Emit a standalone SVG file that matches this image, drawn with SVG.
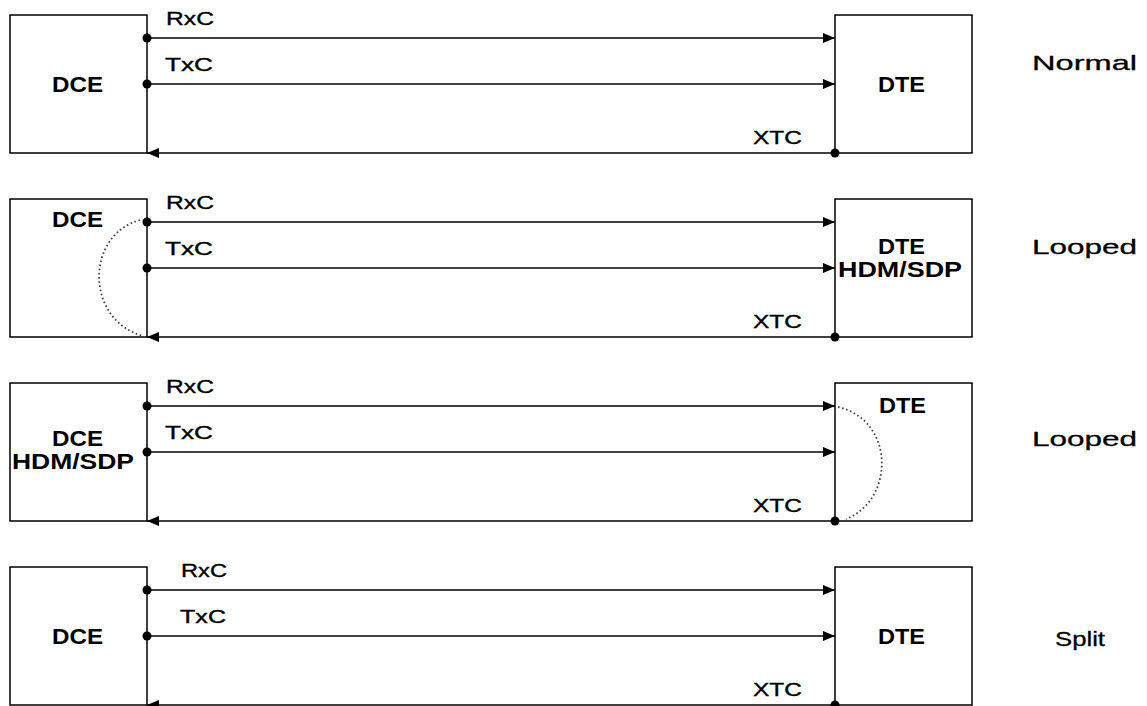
<svg xmlns="http://www.w3.org/2000/svg" width="1147" height="706" viewBox="0 0 1147 706">
<style>
.box{fill:none;stroke:#000;stroke-width:1.5}
.ln{fill:none;stroke:#000;stroke-width:1.5}
.dot{fill:#000}
.loop{fill:none;stroke:#444;stroke-width:1.8;stroke-dasharray:1.6 2.6}
.sig{font-family:"Liberation Sans",Arial,sans-serif;font-size:19px;fill:#000;stroke:#000;stroke-width:0.35}
.nm{font-family:"Liberation Sans",Arial,sans-serif;font-size:22px;font-weight:bold;fill:#000}
.mode{font-family:"Liberation Sans",Arial,sans-serif;font-size:21px;fill:#000;stroke:#000;stroke-width:0.3}
</style>
<defs>
<marker id="ah" viewBox="0 0 12 10" refX="12" refY="5" markerWidth="12" markerHeight="10" markerUnits="userSpaceOnUse" orient="auto">
<path d="M0,0 L12,5 L0,10 Z" fill="#000"/>
</marker>
</defs>
<rect width="1147" height="706" fill="#fff"/>

<!-- Panel 1 -->
<g id="p1-dce"><rect class="box" x="10" y="15" width="137" height="138"/><text class="nm" x="52" y="92" textLength="51" lengthAdjust="spacingAndGlyphs">DCE</text></g>
<g id="p1-dte"><rect class="box" x="835" y="15" width="137" height="138"/><text class="nm" x="878" y="92" textLength="47" lengthAdjust="spacingAndGlyphs">DTE</text></g>
<g id="p1-mode"><text class="mode" x="1032" y="70" textLength="105" lengthAdjust="spacingAndGlyphs">Normal</text></g>
<g id="p1-connectors">
<line class="ln" x1="147" y1="38" x2="835" y2="38" marker-end="url(#ah)"/>
<line class="ln" x1="147" y1="84" x2="835" y2="84" marker-end="url(#ah)"/>
<line class="ln" x1="835" y1="153" x2="147" y2="153" marker-end="url(#ah)"/>
<circle class="dot" cx="147" cy="38" r="4.5"/><circle class="dot" cx="147" cy="84" r="4.5"/><circle class="dot" cx="835" cy="153" r="4.5"/>
<text class="sig" x="166" y="25" textLength="48" lengthAdjust="spacingAndGlyphs">RxC</text>
<text class="sig" x="165" y="71" textLength="48" lengthAdjust="spacingAndGlyphs">TxC</text>
<text class="sig" x="753" y="144" textLength="49" lengthAdjust="spacingAndGlyphs">XTC</text>
</g>

<!-- Panel 2 -->
<g id="p2-dce"><rect class="box" x="10" y="199" width="137" height="138"/><text class="nm" x="52" y="227" textLength="51" lengthAdjust="spacingAndGlyphs">DCE</text></g>
<g id="p2-dte"><rect class="box" x="835" y="199" width="137" height="138"/><text class="nm" x="878" y="254" textLength="47" lengthAdjust="spacingAndGlyphs">DTE</text><text class="nm" x="838" y="277" textLength="124" lengthAdjust="spacingAndGlyphs">HDM/SDP</text></g>
<g id="p2-mode"><text class="mode" x="1032" y="254" textLength="105" lengthAdjust="spacingAndGlyphs">Looped</text></g>
<g id="p2-connectors">
<line class="ln" x1="147" y1="222" x2="835" y2="222" marker-end="url(#ah)"/>
<line class="ln" x1="147" y1="268" x2="835" y2="268" marker-end="url(#ah)"/>
<line class="ln" x1="835" y1="337" x2="147" y2="337" marker-end="url(#ah)"/>
<path class="loop" d="M140,220 C85,235 85,320 143,336"/>
<circle class="dot" cx="147" cy="222" r="4.5"/><circle class="dot" cx="147" cy="268" r="4.5"/><circle class="dot" cx="835" cy="337" r="4.5"/>
<text class="sig" x="166" y="209" textLength="48" lengthAdjust="spacingAndGlyphs">RxC</text>
<text class="sig" x="165" y="255" textLength="48" lengthAdjust="spacingAndGlyphs">TxC</text>
<text class="sig" x="753" y="328" textLength="49" lengthAdjust="spacingAndGlyphs">XTC</text>
</g>

<!-- Panel 3 -->
<g id="p3-dce"><rect class="box" x="10" y="383" width="137" height="138"/><text class="nm" x="52" y="446" textLength="51" lengthAdjust="spacingAndGlyphs">DCE</text><text class="nm" x="12" y="469" textLength="122" lengthAdjust="spacingAndGlyphs">HDM/SDP</text></g>
<g id="p3-dte"><rect class="box" x="835" y="383" width="137" height="138"/><text class="nm" x="879" y="413" textLength="47" lengthAdjust="spacingAndGlyphs">DTE</text></g>
<g id="p3-mode"><text class="mode" x="1032" y="446" textLength="105" lengthAdjust="spacingAndGlyphs">Looped</text></g>
<g id="p3-connectors">
<line class="ln" x1="147" y1="406" x2="835" y2="406" marker-end="url(#ah)"/>
<line class="ln" x1="147" y1="452" x2="835" y2="452" marker-end="url(#ah)"/>
<line class="ln" x1="835" y1="521" x2="147" y2="521" marker-end="url(#ah)"/>
<path class="loop" d="M838,407 C895,420 895,500 846,519"/>
<circle class="dot" cx="147" cy="406" r="4.5"/><circle class="dot" cx="147" cy="452" r="4.5"/><circle class="dot" cx="835" cy="521" r="4.5"/>
<text class="sig" x="166" y="393" textLength="48" lengthAdjust="spacingAndGlyphs">RxC</text>
<text class="sig" x="165" y="439" textLength="48" lengthAdjust="spacingAndGlyphs">TxC</text>
<text class="sig" x="753" y="512" textLength="49" lengthAdjust="spacingAndGlyphs">XTC</text>
</g>

<!-- Panel 4 -->
<g id="p4-dce"><rect class="box" x="10" y="567" width="137" height="138"/><text class="nm" x="52" y="644" textLength="51" lengthAdjust="spacingAndGlyphs">DCE</text></g>
<g id="p4-dte"><rect class="box" x="835" y="567" width="137" height="138"/><text class="nm" x="878" y="644" textLength="47" lengthAdjust="spacingAndGlyphs">DTE</text></g>
<g id="p4-mode"><text class="mode" x="1055" y="646" textLength="50" lengthAdjust="spacingAndGlyphs">Split</text></g>
<g id="p4-connectors">
<line class="ln" x1="147" y1="590" x2="835" y2="590" marker-end="url(#ah)"/>
<line class="ln" x1="147" y1="636" x2="835" y2="636" marker-end="url(#ah)"/>
<line class="ln" x1="835" y1="705" x2="147" y2="705" marker-end="url(#ah)"/>
<circle class="dot" cx="147" cy="590" r="4.5"/><circle class="dot" cx="147" cy="636" r="4.5"/><circle class="dot" cx="835" cy="705" r="4.5"/>
<text class="sig" x="181" y="577" textLength="46" lengthAdjust="spacingAndGlyphs">RxC</text>
<text class="sig" x="180" y="623" textLength="46" lengthAdjust="spacingAndGlyphs">TxC</text>
<text class="sig" x="753" y="696" textLength="49" lengthAdjust="spacingAndGlyphs">XTC</text>
</g>
</svg>
